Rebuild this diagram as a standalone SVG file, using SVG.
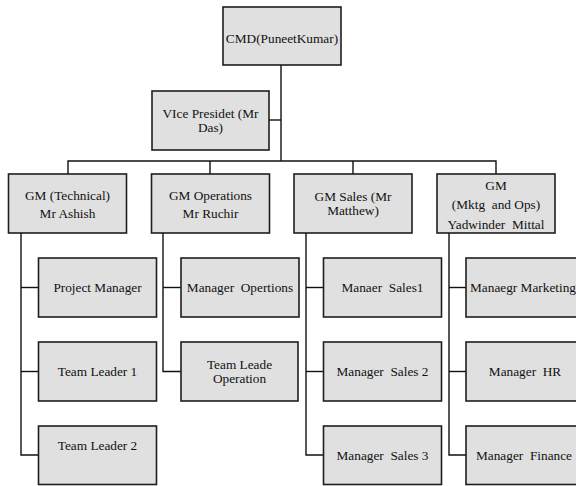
<svg xmlns="http://www.w3.org/2000/svg" width="576" height="486" viewBox="0 0 576 486">
<style>
  .box { fill: #e0e0e0; stroke: #1e1e1e; stroke-width: 1.6; }
  .lbl { font-family: 'Liberation Serif', 'Times New Roman', serif; font-size: 13.3px; fill: #111; text-anchor: middle; }
  .conn { fill: none; stroke: #111; stroke-width: 1.4; }
</style>
<rect width="576" height="486" fill="#ffffff"/>
<g id="connectors">
  <path class="conn" d="M281,65 V161"/>
  <path class="conn" d="M269,120 H281"/>
  <path class="conn" d="M68,174 V161 H496 V174"/>
  <path class="conn" d="M210,161 V174"/>
  <path class="conn" d="M353,161 V174"/>
  <path class="conn" d="M21,233 V455 H38"/>
  <path class="conn" d="M21,287.5 H38"/>
  <path class="conn" d="M21,371.5 H38"/>
  <path class="conn" d="M163,233 V371.5 H181"/>
  <path class="conn" d="M163,287.5 H181"/>
  <path class="conn" d="M306,233 V455 H323"/>
  <path class="conn" d="M306,287.5 H323"/>
  <path class="conn" d="M306,371.5 H323"/>
  <path class="conn" d="M449,233 V455 H466"/>
  <path class="conn" d="M449,287.5 H466"/>
  <path class="conn" d="M449,371.5 H466"/>
</g>
<g id="cmd">
  <rect class="box" x="223" y="7" width="118" height="58"/>
  <text class="lbl" x="282" y="42.5">CMD(PuneetKumar)</text>
</g>
<g id="vp">
  <rect class="box" x="152" y="91" width="117" height="59"/>
  <text class="lbl" x="210.5" y="118">VIce Presidet (Mr</text>
  <text class="lbl" x="210.5" y="132">Das)</text>
</g>
<g id="gm-technical">
  <rect class="box" x="8.5" y="174" width="118" height="59"/>
  <text class="lbl" x="67.5" y="199.5">GM (Technical)</text>
  <text class="lbl" x="67.5" y="218">Mr Ashish</text>
</g>
<g id="gm-operations">
  <rect class="box" x="151.5" y="174" width="118" height="59"/>
  <text class="lbl" x="210.5" y="199.5">GM Operations</text>
  <text class="lbl" x="210.5" y="218">Mr Ruchir</text>
</g>
<g id="gm-sales">
  <rect class="box" x="294" y="174" width="118" height="59"/>
  <text class="lbl" x="353" y="201">GM Sales (Mr</text>
  <text class="lbl" x="353" y="215">Matthew)</text>
</g>
<g id="gm-mktg">
  <rect class="box" x="437" y="174" width="118" height="59"/>
  <text class="lbl" x="496" y="189.5">GM</text>
  <text class="lbl" x="496" y="209" xml:space="preserve">(Mktg  and Ops)</text>
  <text class="lbl" x="496" y="228.5" xml:space="preserve">Yadwinder  Mittal</text>
</g>
<g id="project-manager">
  <rect class="box" x="38.5" y="258" width="118" height="59"/>
  <text class="lbl" x="97.5" y="292">Project Manager</text>
</g>
<g id="team-leader-1">
  <rect class="box" x="38.5" y="342" width="118" height="59"/>
  <text class="lbl" x="97.5" y="376">Team Leader 1</text>
</g>
<g id="team-leader-2">
  <rect class="box" x="38.5" y="426" width="118" height="58.5"/>
  <text class="lbl" x="97.5" y="449.5">Team Leader 2</text>
</g>
<g id="manager-operations">
  <rect class="box" x="181" y="258" width="118" height="59"/>
  <text class="lbl" x="240" y="292" xml:space="preserve">Manager  Opertions</text>
</g>
<g id="team-leade-operation">
  <rect class="box" x="181" y="342" width="117" height="59"/>
  <text class="lbl" x="239.5" y="369">Team Leade</text>
  <text class="lbl" x="239.5" y="383">Operation</text>
</g>
<g id="manager-sales-1">
  <rect class="box" x="323.5" y="258" width="118" height="59"/>
  <text class="lbl" x="382.5" y="292" xml:space="preserve">Manaer  Sales1</text>
</g>
<g id="manager-sales-2">
  <rect class="box" x="323.5" y="342" width="118" height="59"/>
  <text class="lbl" x="382.5" y="376" xml:space="preserve">Manager  Sales 2</text>
</g>
<g id="manager-sales-3">
  <rect class="box" x="323.5" y="426" width="118" height="58.5"/>
  <text class="lbl" x="382.5" y="459.5" xml:space="preserve">Manager  Sales 3</text>
</g>
<g id="manager-marketing">
  <rect class="box" x="466" y="258" width="118" height="59"/>
  <text class="lbl" x="523" y="292">Manaegr Marketing</text>
</g>
<g id="manager-hr">
  <rect class="box" x="466" y="342" width="118" height="59"/>
  <text class="lbl" x="525" y="376" xml:space="preserve">Manager  HR</text>
</g>
<g id="manager-finance">
  <rect class="box" x="466" y="426" width="118" height="58.5"/>
  <text class="lbl" x="524" y="459.5" xml:space="preserve">Manager  Finance</text>
</g>
</svg>
